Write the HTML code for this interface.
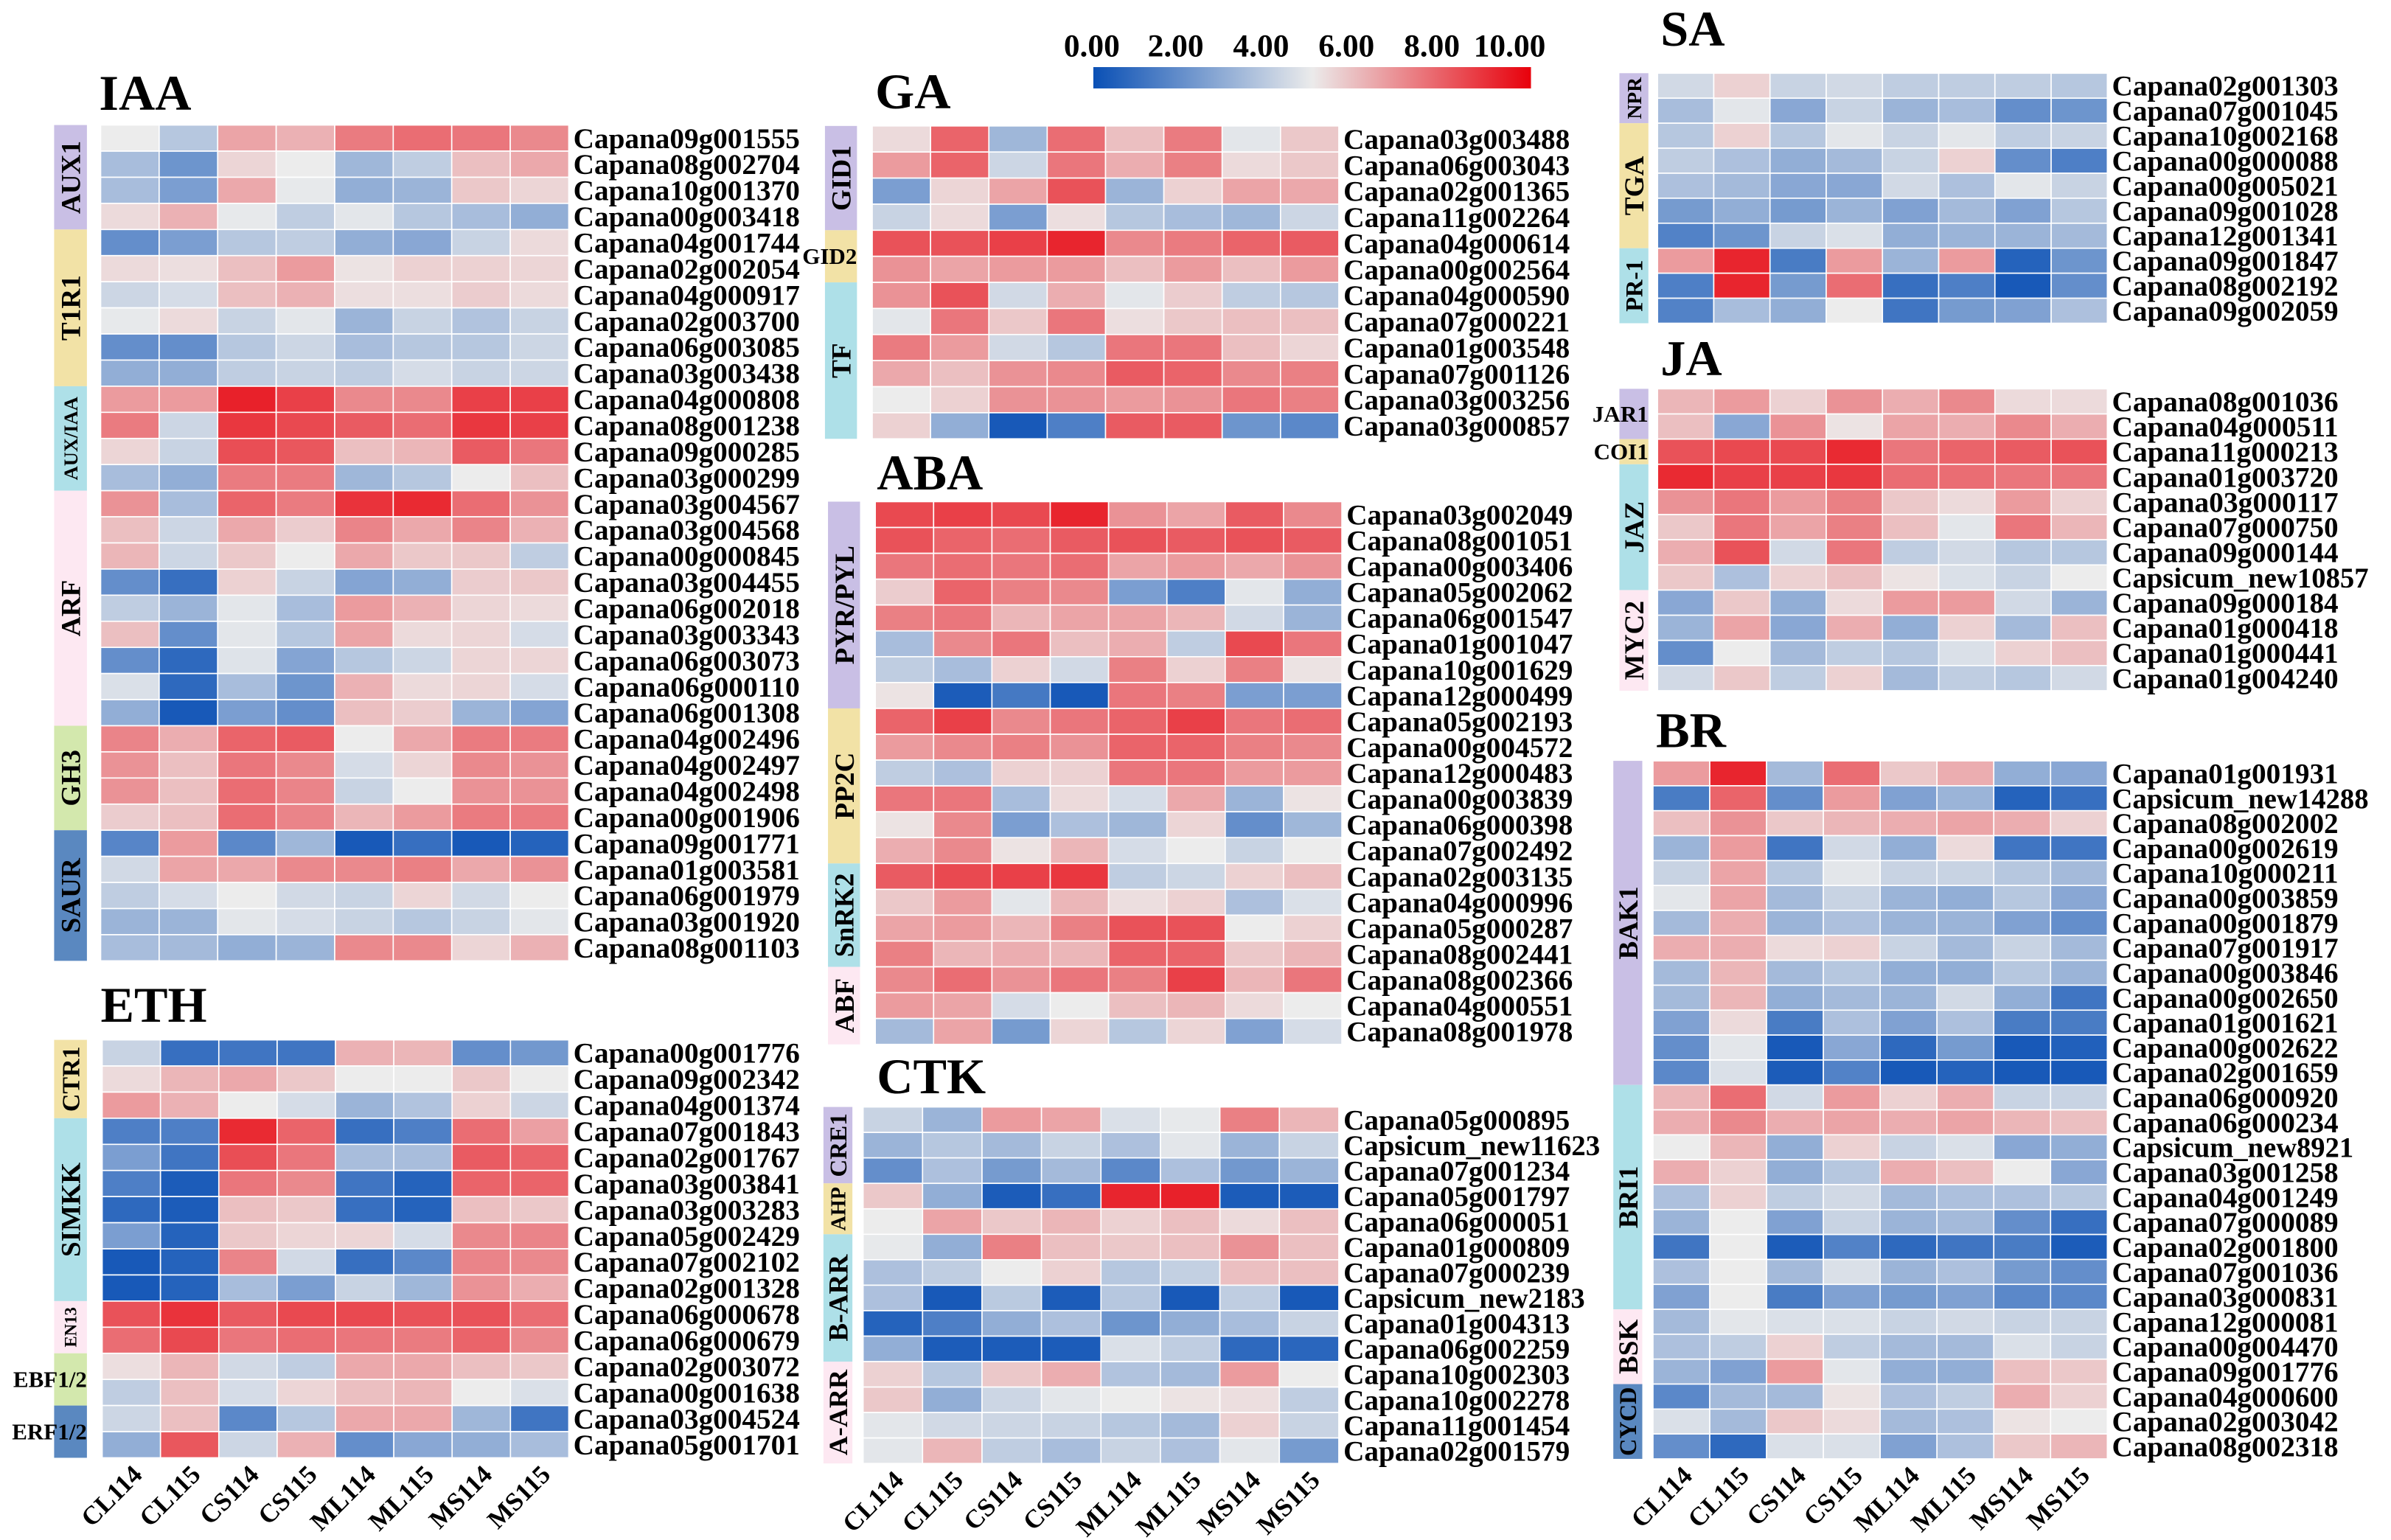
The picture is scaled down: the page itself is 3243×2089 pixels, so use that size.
<!DOCTYPE html>
<html><head><meta charset="utf-8"><title>Hormone gene heatmaps</title>
<style>
html,body{margin:0;padding:0;background:#fff;}
svg{display:block;font-family:"Liberation Serif",serif;font-weight:bold;}
</style></head>
<body>
<svg id="chart" xmlns="http://www.w3.org/2000/svg" width="3243" height="2089" viewBox="0 0 1568 1010" preserveAspectRatio="none">
<defs>
<linearGradient id="cbar" x1="0" x2="1" y1="0" y2="0">
<stop offset="0" stop-color="#0a50b5"/><stop offset="0.5" stop-color="#ebebeb"/><stop offset="1" stop-color="#e8000b"/>
</linearGradient>
</defs>
<g>
<rect x="717" y="44" width="287" height="14" fill="url(#cbar)"/>
<text x="716" y="37" font-size="21" text-anchor="middle">0.00</text>
<text x="771" y="37" font-size="21" text-anchor="middle">2.00</text>
<text x="827" y="37" font-size="21" text-anchor="middle">4.00</text>
<text x="883" y="37" font-size="21" text-anchor="middle">6.00</text>
<text x="939" y="37" font-size="21" text-anchor="middle">8.00</text>
<text x="990" y="37" font-size="21" text-anchor="middle">10.00</text>
</g>
</svg>
<script>
const columns = ["CL114","CL115","CS114","CS115","ML114","ML115","MS114","MS115"];

const iaaGenes = ["Capana09g001555","Capana08g002704","Capana10g001370","Capana00g003418","Capana04g001744","Capana02g002054","Capana04g000917","Capana02g003700","Capana06g003085","Capana03g003438","Capana04g000808","Capana08g001238","Capana09g000285","Capana03g000299","Capana03g004567","Capana03g004568","Capana00g000845","Capana03g004455","Capana06g002018","Capana03g003343","Capana06g003073","Capana06g000110","Capana06g001308","Capana04g002496","Capana04g002497","Capana04g002498","Capana00g001906","Capana09g001771","Capana01g003581","Capana06g001979","Capana03g001920","Capana08g001103"];
const iaaValues = [
[5,3.8,6.6,6.3,7.5,7.8,7.6,7.2],[3.5,2.2,5.5,5,3.3,4,6,6.5],[3.5,2.5,6.5,4.9,3,3.2,5.8,5.5],[5.4,6.3,4.9,4,4.8,3.8,3.5,3],
[2,2.5,3.8,4,3,2.8,4.2,5.4],[5.4,5.3,6,6.8,5.2,5.6,5.6,5.5],[4.3,4.5,6,6.3,5.3,5.3,5.7,5.4],[4.9,5.4,4.2,4.8,3.2,4.2,3.7,4.2],
[2,2,3.8,4.3,3.5,3.8,3.8,4.3],[3,3,4,4.2,4,4.5,4.2,4.3],[6.8,6.8,9.5,8.8,7.2,7.2,8.8,8.8],[7.5,4.3,9,8.6,8.2,7.8,9,8.8],
[5.5,4.2,8.5,8.3,6,6.2,8.2,7.6],[3.5,3,7.5,7.5,3.3,3.8,5,6],[7,3.5,8,7.5,9.1,9.3,7.8,7],[6,4.3,6.5,5.7,7.3,6.5,7.3,6.3],
[6.2,4.3,5.8,5,6.5,5.8,5.8,4],[2,1,5.6,4.2,2.7,3,5.7,5.8],[4,3.2,4.8,3.5,6.8,6.3,5.5,5.4],[6,2,4.8,3.8,6.6,5.4,5.5,4.5],
[2,0.8,4.7,2.7,3.8,4.3,5.5,5.5],[4.6,0.8,3.5,2.2,6.3,5.4,5.5,4.5],[3,0.3,2.5,2,6,5.7,3.2,2.7],[7.3,6.4,8,8.2,5,6.5,7.5,7.5],
[7,6,7.6,7.2,4.5,5.5,7.2,7],[7,6,7.8,7.3,4.2,5,7,7],[5.7,6,7.8,7.3,6.2,6.8,7.5,7.5],[1.7,6.8,1.8,3.3,0.3,1,0.3,0.6],
[4.4,6.6,6.5,7.2,7.2,7.4,6.5,7],[4,4.5,5,4.4,4.2,5.5,4.4,5],[3.2,3.2,4.8,4.5,4.2,3.8,4.2,4.8],[3.5,3.4,3,3.2,7.2,7.2,5.5,6.3]];

const ethGenes = ["Capana00g001776","Capana09g002342","Capana04g001374","Capana07g001843","Capana02g001767","Capana03g003841","Capana03g003283","Capana05g002429","Capana07g002102","Capana02g001328","Capana06g000678","Capana06g000679","Capana02g003072","Capana00g001638","Capana03g004524","Capana05g001701"];
const ethValues = [
[4.2,1,1.2,1.2,6.3,6.2,2,2.3],[5.4,6.2,6.5,5.8,5,5,5.8,5],[6.8,6.3,5,4.5,3.2,3.7,5.6,4.3],[1.5,1.5,9.3,8,1,1.5,7.8,6.7],
[2.5,1.2,8.5,7.6,3.5,3.5,8.2,8],[1.5,0.4,7.6,7.2,1.2,0.6,8,8],[0.8,0.4,6,5.8,1,0.6,6,5.8],[2.5,0.6,5.8,5.5,5.5,4.5,7.2,7.3],
[0.3,0.6,7.3,4.4,1,1.8,7.3,7.2],[0.3,0.6,3.5,2.5,4.2,3.3,7,6.4],[8.4,9.1,8.2,8.6,8.6,8.4,8.4,7.8],[7.8,8.6,7.6,7.8,7.6,7.5,8,7.2],
[5.3,6.2,4.4,4,6.5,6.5,6,5.8],[4,6,4.5,5.5,6,6.2,5,4.6],[4.3,6,1.8,3.8,6.5,6.5,3.3,1.2],[3,8.3,4.3,6.3,2,2.8,3,3.5]];

const gaGenes = ["Capana03g003488","Capana06g003043","Capana02g001365","Capana11g002264","Capana04g000614","Capana00g002564","Capana04g000590","Capana07g000221","Capana01g003548","Capana07g001126","Capana03g003256","Capana03g000857"];
const gaValues = [
[5.4,8,3.3,7.8,6,7.5,4.8,5.8],[6.8,8,4.3,7.6,6.4,7.4,5.4,5.8],[2.5,5.5,6.6,8.4,3.2,5.6,6.6,6.5],[4.2,5.4,2.5,5.3,3.8,3.5,3.3,4.3],
[8.4,8.4,8.8,9.4,7.2,7.5,8,8.2],[7,6.6,6.8,6.8,6,6.8,6,6.8],[7,8.4,4.4,6.4,4.8,5.7,4,3.8],[4.8,7.6,5.8,7.6,5.3,5.8,6,6],
[7.5,6.8,4.4,3.8,7.6,7.6,6,5.5],[6.5,6,7,7.2,8.2,8,7.2,7.4],[5,5.6,7,7,6.8,7,7.6,7.4],[5.6,3,0.3,1.5,8.2,8.2,2.2,1.8]];

const abaGenes = ["Capana03g002049","Capana08g001051","Capana00g003406","Capana05g002062","Capana06g001547","Capana01g001047","Capana10g001629","Capana12g000499","Capana05g002193","Capana00g004572","Capana12g000483","Capana00g003839","Capana06g000398","Capana07g002492","Capana02g003135","Capana04g000996","Capana05g000287","Capana08g002441","Capana08g002366","Capana04g000551","Capana08g001978"];
const abaValues = [
[8.6,8.8,8.6,9.4,7,6.6,8.2,7.2],[8.4,8,7.8,8.2,8.4,8.2,8.4,8.2],[7.6,7.8,7.6,7.8,6.6,6.8,6.5,7],[5.7,8,7.4,7.2,2.5,1.5,4.8,3],
[7.4,7.6,6.2,6.6,6.6,6.2,4.4,3.2],[3.5,7.2,7.6,6,6.4,4,8.6,7.6],[4,3.5,5.6,4.4,7.4,5.6,7.4,5.2],[5.2,0.4,1.3,0.3,7.6,7.4,2.5,2.5],
[8,8.8,7.2,7.6,8,8.8,7.6,7.8],[6.8,7.2,7.4,7,8,8,7.4,7.2],[4,3.6,5.6,5.6,7.6,7.6,6.8,6.8],[7.6,7.6,3.5,5.4,4.5,6.5,3.2,5.2],
[5.2,7.2,2.5,3.6,3.3,5.5,2,3.3],[6.4,7.2,5.2,6.2,4.5,5,4.2,5],[8.2,8.6,8.8,9,4,4.3,5.6,6],[5.8,6.8,4.8,6.2,5.3,5.6,3.6,4.6],
[6.6,6.8,6.2,7.4,8.4,8.4,5,5.6],[7.4,6.2,6.4,6.2,8,8,5.8,6.2],[7.2,7.8,7,7.6,7.4,8.8,6.2,7.6],[6.8,6.6,4.5,5,6,6.2,5.4,5],
[3.4,6.6,2.4,5.5,3.8,5.5,2.6,4.5]];

const ctkGenes = ["Capana05g000895","Capsicum_new11623","Capana07g001234","Capana05g001797","Capana06g000051","Capana01g000809","Capana07g000239","Capsicum_new2183","Capana01g004313","Capana06g002259","Capana10g002303","Capana10g002278","Capana11g001454","Capana02g001579"];
const ctkValues = [
[4.2,3.2,6.8,6.6,4.6,4.9,7.4,6.2],[3.2,3.8,3.4,4.2,3.6,4.8,3.2,4.2],[2,3.6,2.4,3.4,1.8,3.6,2.3,3.2],[5.8,3,0.4,1,9.4,9.5,0.4,0.4],
[5,6.6,5.8,6.2,5.6,6,5.4,6],[4.9,3,7.4,6,5.8,6,7,6],[3.6,4,5,5.6,3.8,4.1,6,6],[3.6,0.3,3.9,0.4,3.8,0.3,4,0.3],
[0.6,1.5,3,3.6,2.2,3,3.5,4.2],[3,0.4,0.4,0.4,4.6,4,0.8,0.7],[5.6,3.8,5.8,6.4,3.7,3.4,6.8,5],[5.8,3,4.3,4.8,5,5.2,5.3,4],
[4.8,4.4,4.3,4.2,3.8,3.4,5.6,4.2],[4.8,6.2,4,3.5,4.2,3.6,4.8,2.4]];

const saGenes = ["Capana02g001303","Capana07g001045","Capana10g002168","Capana00g000088","Capana00g005021","Capana09g001028","Capana12g001341","Capana09g001847","Capana08g002192","Capana09g002059"];
const saValues = [
[4.4,5.6,4.2,4.4,4,4,4,3.8],[3.5,4.8,2.8,4.2,3.2,3.5,2,2.2],[3.8,5.6,3.8,4.8,4.2,4.8,4,4.2],[4,3.6,3,3.4,4.2,5.6,2,1.5],
[3.6,3.4,2.8,2.8,4.4,3.6,4.8,4.2],[2.4,3,2.4,3.2,2.6,3.4,2.6,3.8],[1.6,2.2,4.2,4.6,3,3.2,3.2,3.4],[6.8,9.4,1.4,6.8,3.2,6.8,0.6,2.2],
[1.5,9.4,2.4,7.8,1,1.5,0.3,2],[1.6,3.5,3,5,1.2,2.4,2.6,3.6]];

const jaGenes = ["Capana08g001036","Capana04g000511","Capana11g000213","Capana01g003720","Capana03g000117","Capana07g000750","Capana09g000144","Capsicum_new10857","Capana09g000184","Capana01g000418","Capana01g000441","Capana01g004240"];
const jaValues = [
[6.2,6.8,5.6,7,6.4,7.2,5.4,5.4],[6,2.8,7,5.2,6.6,6.4,7.2,6.4],[8.4,8.6,8.6,9.3,7.6,8,8.2,8.4],[9.3,8.8,8.8,9,7.8,7.8,7.6,7.6],
[7,7.6,6.8,7.4,5.8,5.4,6.8,5.6],[5.8,7.6,6.6,7.4,6,4.8,7.6,6.2],[6.4,8.4,4.4,7.6,4,4.4,3.8,3.8],[5.8,3.6,5.6,6,5.2,4.6,4.2,5],
[2.8,5.8,3,5.4,6.8,6.8,4.4,3.2],[3.2,6.6,2.8,6.4,3,5.6,3.4,6],[2,5,3.4,4,3.8,4.6,5.6,6],[4.4,5.8,4,5.6,3.4,4,3.8,4.4]];

const brGenes = ["Capana01g001931","Capsicum_new14288","Capana08g002002","Capana00g002619","Capana10g000211","Capana00g003859","Capana00g001879","Capana07g001917","Capana00g003846","Capana00g002650","Capana01g001621","Capana00g002622","Capana02g001659","Capana06g000920","Capana06g000234","Capsicum_new8921","Capana03g001258","Capana04g001249","Capana07g000089","Capana02g001800","Capana07g001036","Capana03g000831","Capana12g000081","Capana00g004470","Capana09g001776","Capana04g000600","Capana02g003042","Capana08g002318"];
const brValues = [
[6.8,9.4,3.4,7.8,5.8,6.4,3,2.8],[1.4,8,2,6.8,2.6,3.2,0.6,1],[6,7,5.8,6.2,6.4,6.6,6.4,5.6],[3.2,6.8,1.2,4.4,3,5.4,1.2,1.2],
[4.2,6.6,3.8,4.8,4.2,4.2,3.8,3.4],[4.8,6.6,3.4,4.2,3.2,3,3.8,2.8],[3.4,6.4,3.2,3.6,3.2,3.2,2.6,2],[6.4,6.4,5.4,5.6,4.2,3.4,4.2,3.4],
[3.4,6.2,3.4,3.8,3,3,3.8,3.2],[3.4,6.2,3,3.4,3.2,4.4,3,1.2],[2.6,5.4,1.4,3.6,2.6,3.6,1.4,1.4],[2,4.8,0.3,2.8,0.8,2.4,0.3,0.5],
[1.8,4.6,0.4,1.6,0.3,0.6,0.3,0.3],[6.2,7.8,4.4,6.8,5.6,6.4,4.2,4.2],[6.4,7.2,6.4,6.6,6.4,6.6,6.2,6],[5,6.2,3,5.6,4.2,4.6,2.8,3],
[6.4,5.6,3,3.8,6.4,6,5,2.8],[3.6,5.6,4,4.4,3.4,3.6,3.6,3.8],[3.2,5,2.6,4.2,3.2,3.4,2,1],[1.2,5,0.4,1.6,0.8,1.2,1.4,0.4],
[3.6,5,3.4,4.6,3.2,3.6,2.4,2],[2.6,5,1.4,2.6,2.4,2.6,1.8,1.8],[3.4,4.8,4.6,4.6,4.2,4.4,4.2,4.2],[3.6,4,5.6,4,3.4,3.4,4.6,4.2],
[3.2,2.6,6.8,4.8,3,3,6,5.8],[1.8,3.4,3.4,5.2,3.6,4,6.4,5.6],[4.6,3.4,5.8,5.4,3.4,3.6,5.2,5],[2,0.8,4.6,4.6,2.6,3.6,5.8,6.2]];

const iaaGroups = [["AUX1",4],["T1R1",6],["AUX/IAA",4],["ARF",9],["GH3",4],["SAUR",5]];
const ethGroups = [["CTR1",3],["SIMKK",7],["EN13",2],["EBF1/2",2],["ERF1/2",2]];
const gaGroups = [["GID1",4],["GID2",2],["TF",6]];
const abaGroups = [["PYR/PYL",8],["PP2C",6],["SnRK2",4],["ABF",3]];
const ctkGroups = [["CRE1",3],["AHP",2],["B-ARR",5],["A-ARR",4]];
const saGroups = [["NPR",2],["TGA",5],["PR-1",3]];
const jaGroups = [["JAR1",2],["COI1",1],["JAZ",5],["MYC2",4]];
const brGroups = [["BAK1",13],["BRI1",9],["BSK",3],["CYCD",3]];

const NS = "http://www.w3.org/2000/svg";
const svg = document.getElementById("chart");
const C = {purple:"#c9bfe5", yellow:"#f2e2a6", cyan:"#aee0e8", pink:"#fde8f2", green:"#d3e8ad", steel:"#5a88c0"};

function colorScale(v){
  const lo=[10,80,181], mid=[236,236,236], hi=[232,10,20];
  let t=Math.max(0,Math.min(10,v))/5, a, b;
  if(t<=1){a=lo;b=mid;}else{a=mid;b=hi;t-=1;}
  return "rgb("+a.map((c,i)=>Math.round(c+(b[i]-c)*t)).join(",")+")";
}
function el(tag, attrs, parent){
  const e=document.createElementNS(NS,tag);
  for(const k in attrs) e.setAttribute(k,attrs[k]);
  parent.appendChild(e); return e;
}
function slug(s){return s.toLowerCase().replace(/[^a-z0-9]+/g,"-").replace(/^-|-$/g,"");}

function drawPanel(p){
  const g=el("g",{},svg);
  
  
  const t=el("text",{x:p.tx,y:p.ty,"font-size":33},g);
  
  
  t.textContent=p.title;
  const cw=(p.x1-p.x0)/columns.length;
  const xScale=j=>p.x0+j*cw;
  const yScale=i=>p.y0+i*p.rh;
  p.values.forEach((row,i)=>{
    row.forEach((v,j)=>{
      const r=el("rect",{x:xScale(j),y:yScale(i),width:cw,height:p.rh,fill:colorScale(v),stroke:"#ffffff","stroke-width":0.8},g);
      
      
    });
    const lab=el("text",{x:p.x1+3,y:yScale(i)+p.rh/2+6.5,"font-size":19,textLength:p.genes[i].length*9.9,lengthAdjust:"spacingAndGlyphs"},g);
    
    
    lab.textContent=p.genes[i];
  });
  let start=0;
  p.groups.forEach((gr,k)=>{
    const [name,n]=gr;
    const y=yScale(start), h=n*p.rh;
    const b=el("rect",{x:p.bx,y:y,width:p.bw,height:h,fill:C[p.colors[k]]},g);
    
    
    const horiz=(p.horiz||[]).includes(name);
    let lt;
    if(horiz){
      lt=el("text",{x:p.bx+p.bw,y:y+h/2+5,"font-size":15,"text-anchor":"end"},g);
    }else{
      const fs=Math.max(11,Math.min(18, (h-4)/(name.length*0.72)));
      const cx=p.bx+p.bw/2+fs*0.35, cy=y+h/2;
      lt=el("text",{x:cx,y:cy,"font-size":fs,"text-anchor":"middle",transform:"rotate(-90 "+cx+" "+cy+")"},g);
    }
    
    
    lt.textContent=name;
    start+=n;
  });
  if(p.xlabels){
    const yb=yScale(p.values.length);
    columns.forEach((c,j)=>{
      const cx=xScale(j)+cw/2+8, cy=yb+12;
      const xt=el("text",{x:cx,y:cy,"font-size":17,"text-anchor":"end",transform:"rotate(-45 "+cx+" "+cy+")"},g);
      
      
      xt.textContent=c;
    });
  }
}

drawPanel({key:"iaa",title:"IAA",tx:65,ty:72,x0:66,x1:373,y0:82,rh:17.13,genes:iaaGenes,values:iaaValues,groups:iaaGroups,bx:35.5,bw:21.5,colors:["purple","yellow","cyan","pink","green","steel"]});
drawPanel({key:"eth",title:"ETH",tx:66,ty:670,x0:67,x1:373,y0:682,rh:17.13,genes:ethGenes,values:ethValues,groups:ethGroups,bx:35.5,bw:21.5,colors:["yellow","cyan","pink","green","steel"],horiz:["EBF1/2","ERF1/2"],xlabels:true});
drawPanel({key:"ga",title:"GA",tx:574,ty:71,x0:572,x1:878,y0:82.6,rh:17.1,genes:gaGenes,values:gaValues,groups:gaGroups,bx:541,bw:21,colors:["purple","yellow","cyan"],horiz:["GID2"]});
drawPanel({key:"aba",title:"ABA",tx:575,ty:321,x0:574,x1:880,y0:329,rh:16.95,genes:abaGenes,values:abaValues,groups:abaGroups,bx:543,bw:21,colors:["purple","yellow","cyan","pink"]});
drawPanel({key:"ctk",title:"CTK",tx:575,ty:717,x0:566,x1:878,y0:726,rh:16.7,genes:ctkGenes,values:ctkValues,groups:ctkGroups,bx:540,bw:19,colors:["purple","yellow","cyan","pink"],xlabels:true});
drawPanel({key:"sa",title:"SA",tx:1089,ty:30,x0:1087,x1:1382,y0:48,rh:16.4,genes:saGenes,values:saValues,groups:saGroups,bx:1062,bw:19,colors:["purple","yellow","cyan"]});
drawPanel({key:"ja",title:"JA",tx:1089,ty:246,x0:1087,x1:1382,y0:255,rh:16.5,genes:jaGenes,values:jaValues,groups:jaGroups,bx:1062,bw:19,colors:["purple","yellow","cyan","pink"],horiz:["JAR1","COI1"]});
drawPanel({key:"br",title:"BR",tx:1086,ty:490,x0:1084,x1:1382,y0:499,rh:16.35,genes:brGenes,values:brValues,groups:brGroups,bx:1058,bw:19,colors:["purple","cyan","pink","steel"],xlabels:true});
</script>
</body></html>
